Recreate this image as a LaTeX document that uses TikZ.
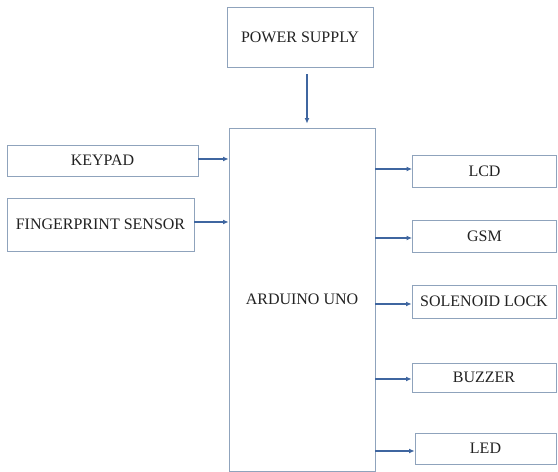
\documentclass[tikz,border=0pt]{standalone}
\usepackage{fontspec}
\setmainfont{Liberation Serif}
\usetikzlibrary{arrows.meta,calc,positioning}
\definecolor{BoxLine}{HTML}{8FA3BC}
\definecolor{ArrowBlue}{HTML}{3F66A0}
\definecolor{LabelText}{HTML}{222222}

\begin{document}
\begin{tikzpicture}[
  x=1pt,y=1pt,
  flow/.style={-{Latex[length=5.5pt,width=5pt]},draw=ArrowBlue,line width=1.1pt},
  block/.style={draw=BoxLine,fill=white,line width=0.9pt,inner sep=0pt,
    align=center,text=LabelText,font=\fontsize{16}{18}\selectfont},
  outbox/.style={block,minimum width=144pt}
]
\useasboundingbox (0,0) rectangle (558,472);

% supply and controller
\node[block,minimum width=146pt,minimum height=60pt] (power) at (300,435)
  {POWER SUPPLY};
\node[block,minimum width=146pt,minimum height=343pt] (arduino) at (302,172.5)
  {ARDUINO UNO};

% inputs on the left
\node[block,minimum width=191pt,minimum height=31pt] (keypad) at (102.5,311.5)
  {KEYPAD};
\node[block,minimum width=187pt,minimum height=53pt] (finger) at (100.5,247.5)
  {FINGERPRINT SENSOR};

% outputs on the right
\node[outbox,minimum height=32pt] (lcd) at (484.5,301) {LCD};
\node[outbox,minimum height=32pt] (gsm) at (484.5,236) {GSM};
\node[outbox,minimum height=33pt] (lock) at (484,170.5) {SOLENOID LOCK};
\node[outbox,minimum height=29pt] (buzzer) at (484,94.5) {BUZZER};
\node[outbox,minimum width=141pt,minimum height=31pt] (led) at (485.5,23.5)
  {LED};

\draw[flow,shorten <=7pt,shorten >=4pt] ([xshift=7pt]power.south)
  -- ([xshift=7pt]power.south |- arduino.north);
\draw[flow] ([yshift=1.5pt]keypad.east) -- ([yshift=1.5pt]keypad.east -| arduino.west);
\draw[flow] ([yshift=2.5pt]finger.east) -- ([yshift=2.5pt]finger.east -| arduino.west);
\foreach \dev/\dy in {lcd/2,gsm/-2,lock/-2.5,buzzer/-1.5,led/-2.5}
  \draw[flow] ([yshift=\dy pt]\dev.west -| arduino.east) -- ([yshift=\dy pt]\dev.west);

\end{tikzpicture}
\end{document}
